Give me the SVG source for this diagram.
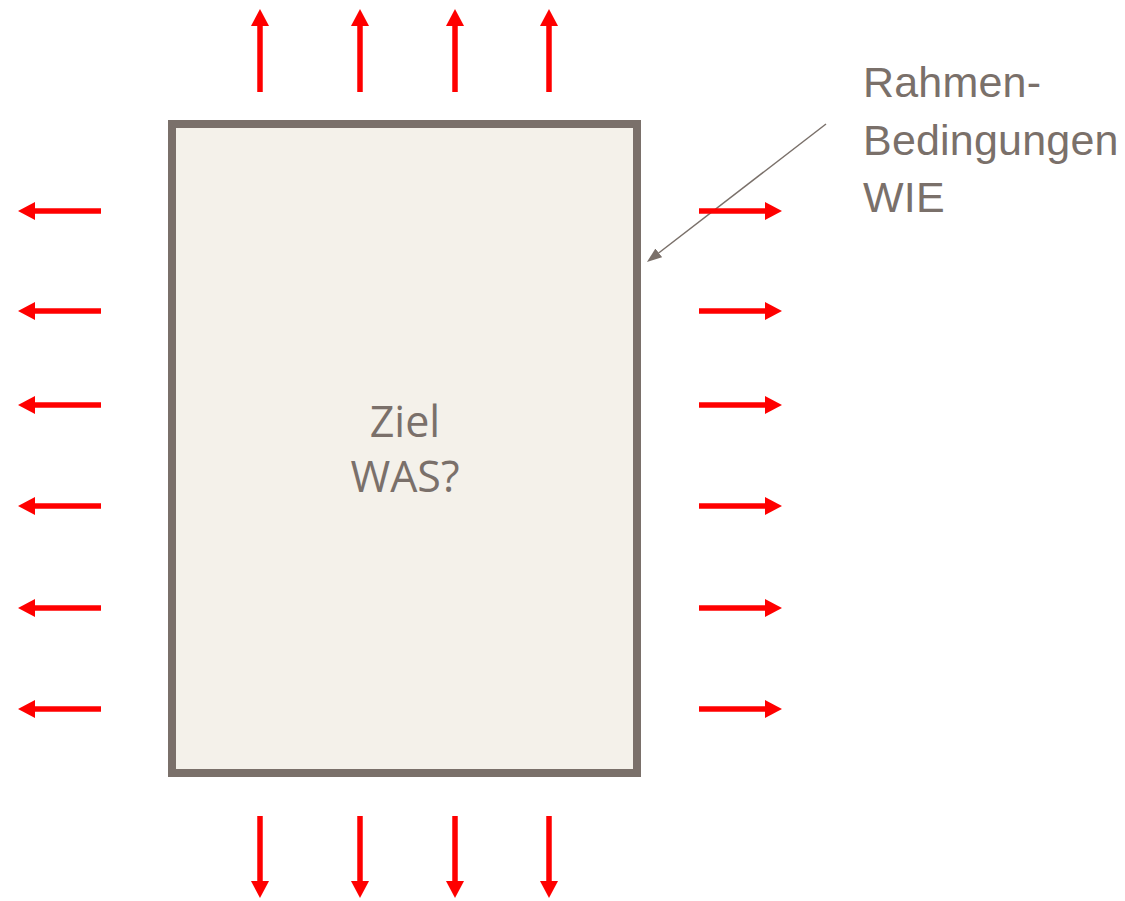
<svg xmlns="http://www.w3.org/2000/svg" width="1125" height="901" viewBox="0 0 1125 901">
<style>
.ar{stroke:#FF0000;stroke-width:5.5;fill:none;marker-end:url(#rh)}
.lbl{font-family:"Liberation Sans",Arial,sans-serif;font-size:43px;fill:#7A706A;letter-spacing:0.2px}
.ctr{font-family:"Open Sans","Noto Sans",sans-serif;font-size:43px;fill:#7A706A;text-anchor:middle}
</style>
<defs>
<marker id="rh" viewBox="0 0 17 18" refX="1" refY="9" markerWidth="17" markerHeight="18" markerUnits="userSpaceOnUse" orient="auto">
<path d="M0,0 L17,9 L0,18 z" fill="#FF0000"/>
</marker>
<marker id="gh" viewBox="0 0 15 11" refX="1" refY="5.5" markerWidth="15" markerHeight="11" markerUnits="userSpaceOnUse" orient="auto">
<path d="M0,0 L15,5.5 L0,11 z" fill="#7A706A"/>
</marker>
</defs>
<rect width="1125" height="901" fill="#FFFFFF"/>
<g id="ziel">
<rect x="172" y="124" width="465" height="649" fill="#F4F1EA" stroke="#7A706A" stroke-width="8"/>
<text class="ctr" x="405" y="437">Ziel</text>
<text class="ctr" x="405" y="492">WAS?</text>
</g>
<g id="rahmen">
<text class="lbl" x="863" y="97">Rahmen-</text>
<text class="lbl" x="863" y="155">Bedingungen</text>
<text class="lbl" x="863" y="212">WIE</text>
</g>
<g id="connectors">
<line x1="826" y1="124" x2="658" y2="253.5" stroke="#7A706A" stroke-width="1.5" marker-end="url(#gh)"/>
<line class="ar" x1="260" y1="92" x2="260" y2="25"/>
<line class="ar" x1="360" y1="92" x2="360" y2="25"/>
<line class="ar" x1="455" y1="92" x2="455" y2="25"/>
<line class="ar" x1="549" y1="92" x2="549" y2="25"/>
<line class="ar" x1="260" y1="816" x2="260" y2="882"/>
<line class="ar" x1="360" y1="816" x2="360" y2="882"/>
<line class="ar" x1="455" y1="816" x2="455" y2="882"/>
<line class="ar" x1="549" y1="816" x2="549" y2="882"/>
<line class="ar" x1="101" y1="211" x2="34" y2="211"/>
<line class="ar" x1="101" y1="311" x2="34" y2="311"/>
<line class="ar" x1="101" y1="405" x2="34" y2="405"/>
<line class="ar" x1="101" y1="506" x2="34" y2="506"/>
<line class="ar" x1="101" y1="608" x2="34" y2="608"/>
<line class="ar" x1="101" y1="709" x2="34" y2="709"/>
<line class="ar" x1="699" y1="211" x2="766" y2="211"/>
<line class="ar" x1="699" y1="311" x2="766" y2="311"/>
<line class="ar" x1="699" y1="405" x2="766" y2="405"/>
<line class="ar" x1="699" y1="506" x2="766" y2="506"/>
<line class="ar" x1="699" y1="608" x2="766" y2="608"/>
<line class="ar" x1="699" y1="709" x2="766" y2="709"/>
</g>
</svg>
